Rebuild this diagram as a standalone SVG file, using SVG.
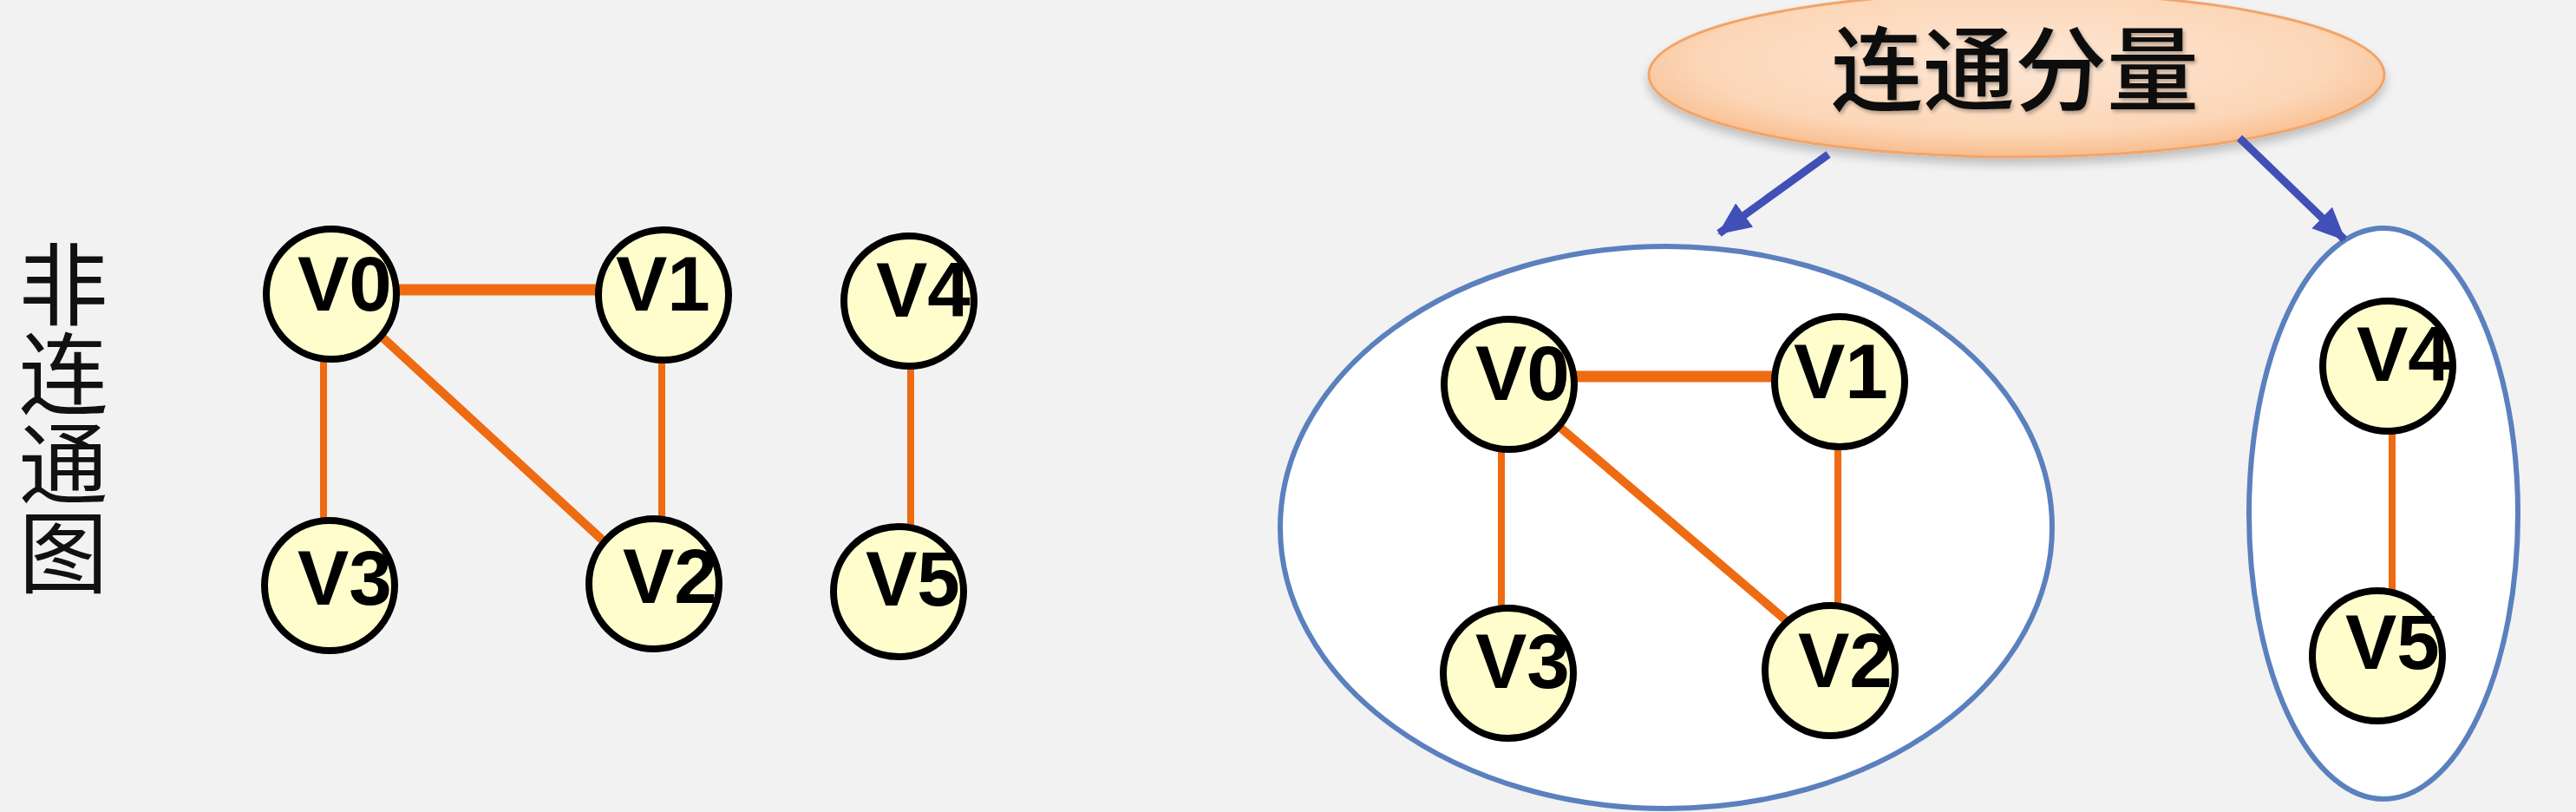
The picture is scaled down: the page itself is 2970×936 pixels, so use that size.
<svg xmlns="http://www.w3.org/2000/svg" width="2970" height="936" viewBox="0 0 2970 936">
<style>
.node circle{fill:#FFFDCC;stroke:#000;stroke-width:8}
.node text{font-family:"Liberation Sans",Arial,sans-serif;font-size:89px;font-weight:bold;fill:#000}
.edge{stroke:#EE6B12;stroke-width:8;fill:none}
.edge.diag{stroke-width:10}
.edge.thick{stroke-width:13}
.arrow{stroke:#4150B6;stroke-width:9;fill:none}
.group{fill:#FFFFFF;stroke:#5B80BE;stroke-width:6}
.cjk{font-family:"Noto Sans CJK SC","Noto Sans CJK JP",sans-serif;fill:#111}
</style>
<defs>
<marker id="ah" markerUnits="userSpaceOnUse" markerWidth="40" markerHeight="40" refX="36" refY="18" orient="auto">
<path d="M0,1 L38,18 L0,35 Z" fill="#4150B6"/>
</marker>
<radialGradient id="og" cx="50%" cy="42%" r="58%">
<stop offset="0" stop-color="#FEE7D5"/>
<stop offset="0.75" stop-color="#FCD6B7"/>
<stop offset="1" stop-color="#F8BD8E"/>
</radialGradient>
<filter id="sh" x="-10%" y="-10%" width="120%" height="140%">
<feGaussianBlur in="SourceAlpha" stdDeviation="6"/>
<feOffset dx="0" dy="7" result="b"/>
<feComponentTransfer><feFuncA type="linear" slope="0.22"/></feComponentTransfer>
<feMerge><feMergeNode/><feMergeNode in="SourceGraphic"/></feMerge>
</filter>
<filter id="tsh" x="-5%" y="-10%" width="110%" height="130%">
<feGaussianBlur in="SourceAlpha" stdDeviation="2"/>
<feOffset dx="2" dy="3"/>
<feComponentTransfer><feFuncA type="linear" slope="0.3"/></feComponentTransfer>
<feMerge><feMergeNode/><feMergeNode in="SourceGraphic"/></feMerge>
</filter>
</defs>
<rect x="0" y="0" width="2970" height="936" fill="#F2F2F2"/>

<g id="label-left">
<text class="cjk" font-size="103" x="73" y="276" writing-mode="vertical-rl">非连通图</text>
</g>

<g id="component-1">
<ellipse class="group" cx="1921" cy="608" rx="445" ry="324"/>
</g>
<g id="component-2">
<ellipse class="group" cx="2748" cy="592" rx="155" ry="329"/>
</g>

<g id="title">
<ellipse cx="2325" cy="86" rx="424" ry="95" fill="url(#og)" stroke="#F2A468" stroke-width="3" filter="url(#sh)"/>
<text class="cjk" font-size="106" font-weight="500" x="2323" y="119" text-anchor="middle" filter="url(#tsh)">连通分量</text>
</g>

<g id="connectors">
<line class="edge thick" x1="460" y1="334" x2="688" y2="334"/>
<line class="edge" x1="373" y1="415" x2="373" y2="600"/>
<line class="edge diag" x1="440" y1="388" x2="694" y2="622"/>
<line class="edge" x1="763" y1="415" x2="763" y2="598"/>
<line class="edge" x1="1050" y1="423" x2="1050" y2="607"/>

<line class="edge thick" x1="1815" y1="434" x2="2045" y2="434"/>
<line class="edge" x1="1731" y1="517" x2="1731" y2="701"/>
<line class="edge diag" x1="1798" y1="492" x2="2072" y2="726"/>
<line class="edge" x1="2119" y1="514" x2="2119" y2="698"/>
<line class="edge" x1="2758" y1="497" x2="2758" y2="682"/>

<line class="arrow" x1="2108" y1="178" x2="1982" y2="269" marker-end="url(#ah)"/>
<line class="arrow" x1="2582" y1="159" x2="2703" y2="276" marker-end="url(#ah)"/>
</g>

<g id="L-V0" class="node"><circle cx="382" cy="339" r="75"/><text x="343" y="358">V0</text></g>
<g id="L-V1" class="node"><circle cx="765" cy="340" r="75"/><text x="710" y="358">V1</text></g>
<g id="L-V4" class="node"><circle cx="1048" cy="347" r="75"/><text x="1010" y="365">V4</text></g>
<g id="L-V3" class="node"><circle cx="380" cy="675" r="75"/><text x="343" y="697">V3</text></g>
<g id="L-V2" class="node"><circle cx="754" cy="673" r="75"/><text x="718" y="695">V2</text></g>
<g id="L-V5" class="node"><circle cx="1036" cy="682" r="75"/><text x="998" y="698">V5</text></g>

<g id="R-V0" class="node"><circle cx="1740" cy="443" r="75"/><text x="1701" y="461">V0</text></g>
<g id="R-V1" class="node"><circle cx="2121" cy="440" r="75"/><text x="2068" y="459">V1</text></g>
<g id="R-V3" class="node"><circle cx="1739" cy="776" r="75"/><text x="1701" y="793">V3</text></g>
<g id="R-V2" class="node"><circle cx="2110" cy="773" r="75"/><text x="2073" y="792">V2</text></g>
<g id="R-V4" class="node"><circle cx="2753" cy="422" r="75"/><text x="2717" y="439">V4</text></g>
<g id="R-V5" class="node"><circle cx="2741" cy="756" r="75"/><text x="2704" y="771">V5</text></g>
</svg>
